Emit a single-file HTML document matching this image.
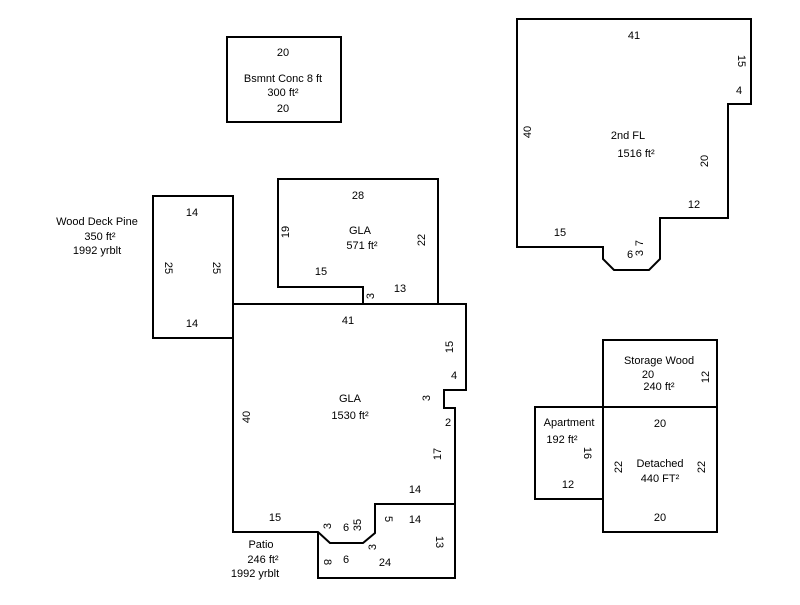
<!DOCTYPE html>
<html><head><style>body{margin:0;background:#fff}svg text{font-family:"Liberation Sans",Arial,sans-serif;font-size:11px;fill:#000}</style></head><body>
<svg width="800" height="600" xmlns="http://www.w3.org/2000/svg">
<g fill="none" stroke="#000" stroke-width="2">
<rect x="227" y="37" width="114" height="85"/>
<polygon points="517,19 751,19 751,104 728,104 728,218 660,218 660,259 649,270 614,270 603,259 603,247 517,247"/>
<polygon points="278,179 438,179 438,304 363,304 363,287 278,287"/>
<rect x="153" y="196" width="80" height="142"/>
<polygon points="233,304 466,304 466,390 444,390 444,408 455,408 455,504 375,504 375,533 363,543 330,543 318,532 233,532"/>
<polyline points="318,532 318,578 455,578 455,504"/>
<rect x="603" y="340" width="114" height="67"/>
<rect x="603" y="407" width="114" height="125"/>
<polyline points="603,407 535,407 535,499 603,499"/>
</g>
<g text-anchor="middle">
<text x="283" y="56">20</text><text x="283" y="82">Bsmnt Conc 8 ft</text><text x="283" y="96">300 ft²</text><text x="283" y="112">20</text>
<text x="634" y="39">41</text><text x="628" y="139">2nd FL</text><text x="636" y="157">1516 ft²</text><text x="560" y="236">15</text><text x="694" y="208">12</text><text x="739" y="94">4</text><text x="630" y="258">6</text>
<text x="358" y="199">28</text><text x="360" y="234">GLA</text><text x="362" y="249">571 ft²</text><text x="321" y="275">15</text><text x="400" y="292">13</text>
<text x="97" y="225">Wood Deck Pine</text><text x="100" y="240">350 ft²</text><text x="97" y="254">1992 yrblt</text>
<text x="192" y="216">14</text><text x="192" y="327">14</text>
<text x="348" y="324">41</text><text x="350" y="402">GLA</text><text x="350" y="419">1530 ft²</text><text x="454" y="379">4</text><text x="448" y="426">2</text><text x="415" y="493">14</text><text x="275" y="521">15</text><text x="346" y="531">6</text>
<text x="415" y="523">14</text><text x="346" y="563">6</text><text x="385" y="566">24</text>
<text x="261" y="548">Patio</text><text x="263" y="563">246 ft²</text><text x="255" y="577">1992 yrblt</text>
<text x="659" y="364">Storage Wood</text><text x="648" y="378">20</text><text x="659" y="390">240 ft²</text>
<text x="660" y="427">20</text><text x="660" y="467">Detached</text><text x="660" y="482">440 FT²</text><text x="660" y="521">20</text>
<text x="569" y="426">Apartment</text><text x="562" y="443">192 ft²</text><text x="568" y="488">12</text>
</g>
<g text-anchor="middle">
<text transform="translate(531,132) rotate(-90)">40</text>
<text transform="translate(738,61) rotate(90)">15</text>
<text transform="translate(708,161) rotate(-90)">20</text>
<text transform="translate(643,243) rotate(-90)">7</text>
<text transform="translate(643,253) rotate(-90)">3</text>
<text transform="translate(289,232) rotate(-90)">19</text>
<text transform="translate(425,240) rotate(-90)">22</text>
<text transform="translate(374,296) rotate(-90)">3</text>
<text transform="translate(165,268) rotate(90)">25</text>
<text transform="translate(213,268) rotate(90)">25</text>
<text transform="translate(453,347) rotate(-90)">15</text>
<text transform="translate(430,398) rotate(-90)">3</text>
<text transform="translate(250,417) rotate(-90)">40</text>
<text transform="translate(441,454) rotate(-90)">17</text>
<text transform="translate(331,526) rotate(-90)">3</text>
<text transform="translate(361,525) rotate(-90)">35</text>
<text transform="translate(385,519) rotate(90)">5</text>
<text transform="translate(376,547) rotate(-90)">3</text>
<text transform="translate(436,542) rotate(90)">13</text>
<text transform="translate(324,562) rotate(90)">8</text>
<text transform="translate(584,453) rotate(90)">16</text>
<text transform="translate(622,467) rotate(-90)">22</text>
<text transform="translate(705,467) rotate(-90)">22</text>
<text transform="translate(709,377) rotate(-90)">12</text>
</g>
</svg>
</body></html>
